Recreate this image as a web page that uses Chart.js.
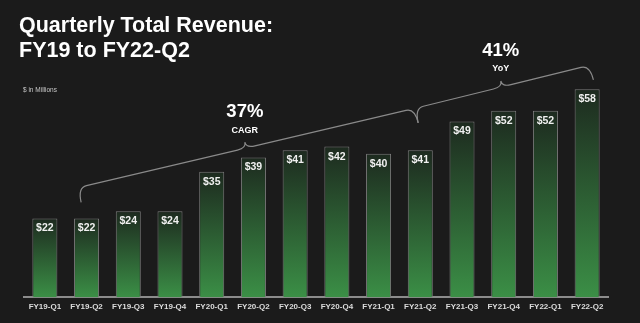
<!DOCTYPE html>
<html>
<head>
<meta charset="utf-8">
<script src="https://cdn.jsdelivr.net/npm/chart.js@4/dist/chart.umd.min.js"></script>
<style>
	html, body { margin: 0; padding: 0; background: #1b1b1b; }
	.chart { width: 640px; height: 323px; position: relative; }
</style>
</head>
<body>
<div class="chart"><canvas id="chart-revenue"></canvas></div>
<script>
var quarters = ['FY19-Q1', 'FY19-Q2', 'FY19-Q3', 'FY19-Q4', 'FY20-Q1', 'FY20-Q2', 'FY20-Q3', 'FY20-Q4', 'FY21-Q1', 'FY21-Q2', 'FY21-Q3', 'FY21-Q4', 'FY22-Q1', 'FY22-Q2'];
var revenue = [22, 22, 24, 24, 35, 39, 41, 42, 40, 41, 49, 52, 52, 58];

var titleLines = ['Quarterly Total Revenue:', 'FY19 to FY22-Q2'];
var unitNote = '$ in Millions';

// growth callouts: brace from one quarter to another, ends given in $M
var braceLabels = ['37%', '41%'];
var braceSubs = ['CAGR', 'YoY'];
var braceFrom = [0.87, 8.95];
var braceTo = [8.95, 13.15];
var braceFromVal = [26.5, 48.6];
var braceToVal = [48.6, 60.6];

var fontFamily = '"Liberation Sans", Arial, Helvetica, sans-serif';

function barGradient(context) {
	var chart = context.chart;
	var area = chart.chartArea;
	if (!area) return '#2f7a3a';
	var v = context.raw;
	var top = chart.scales.y.getPixelForValue(v);
	var g = chart.ctx.createLinearGradient(0, top, 0, area.bottom);
	g.addColorStop(0, '#1d2a1f');
	g.addColorStop(1, '#3b8f46');
	return g;
}

function drawBrace(ctx, x1, y1, x2, y2, h, tip, r) {
	var dx = x2 - x1, dy = y2 - y1;
	var len = Math.sqrt(dx * dx + dy * dy);
	var ux = dx / len, uy = dy / len;
	var nx = uy, ny = -ux;
	var mx = (x1 + x2) / 2, my = (y1 + y2) / 2;

	ctx.beginPath();
	ctx.moveTo(x1, y1);
	ctx.quadraticCurveTo(x1 + nx * h, y1 + ny * h, x1 + ux * r + nx * h, y1 + uy * r + ny * h);
	ctx.lineTo(mx - ux * r + nx * h, my - uy * r + ny * h);
	ctx.quadraticCurveTo(mx + nx * h, my + ny * h, mx + nx * (h + tip), my + ny * (h + tip));
	ctx.quadraticCurveTo(mx + nx * h, my + ny * h, mx + ux * r + nx * h, my + uy * r + ny * h);
	ctx.lineTo(x2 - ux * r + nx * h, y2 - uy * r + ny * h);
	ctx.quadraticCurveTo(x2 + nx * h, y2 + ny * h, x2, y2);
	ctx.stroke();

	return { x: mx + nx * (h + tip), y: my + ny * (h + tip) };
}

var extrasPlugin = {
	id: 'extras',
	afterDatasetsDraw: function(chart) {
		var ctx = chart.ctx;
		var xs = chart.scales.x;
		var ys = chart.scales.y;
		ctx.save();

		// title
		ctx.fillStyle = '#ffffff';
		ctx.textAlign = 'left';
		ctx.textBaseline = 'alphabetic';
		ctx.font = 'bold 21.5px ' + fontFamily;
		ctx.fillText(titleLines[0], 19, 32);
		ctx.fillText(titleLines[1], 19, 57);

		ctx.fillStyle = '#c8c8c8';
		ctx.font = '6.5px ' + fontFamily;
		ctx.textBaseline = 'middle';
		ctx.fillText(unitNote, 23, 90);

		// value labels inside bars
		var meta = chart.getDatasetMeta(0);
		ctx.fillStyle = '#f0f0f0';
		ctx.textAlign = 'center';
		ctx.font = 'bold 10.5px ' + fontFamily;
		meta.data.forEach(function(bar, i) {
			ctx.fillText('$' + revenue[i], bar.x, bar.y + 10);
		});

		// braces with labels
		ctx.strokeStyle = '#8a8a8a';
		ctx.lineWidth = 1.2;
		for (var i = 0; i < braceLabels.length; i++) {
			var x1 = xs.getPixelForValue(braceFrom[i]);
			var x2 = xs.getPixelForValue(braceTo[i]);
			var y1 = ys.getPixelForValue(braceFromVal[i]);
			var y2 = ys.getPixelForValue(braceToVal[i]);
			var tip = drawBrace(ctx, x1, y1, x2, y2, 15, 6, 9);

			ctx.fillStyle = '#ffffff';
			ctx.font = 'bold 18.5px ' + fontFamily;
			ctx.fillText(braceLabels[i], tip.x, tip.y - 30);
			ctx.font = 'bold 9px ' + fontFamily;
			ctx.fillText(braceSubs[i], tip.x, tip.y - 12);
		}
		ctx.restore();
	}
};

var ctx = document.getElementById('chart-revenue').getContext('2d');
var myChart = new Chart(ctx, {
	type: 'bar',
	data: {
		labels: quarters,
		datasets: [
			{
				label: 'Revenue',
				data: revenue,
				backgroundColor: barGradient,
				borderColor: '#7a7a7a',
				borderWidth: 1,
				borderSkipped: 'bottom',
				barPercentage: 0.6,
				categoryPercentage: 1
			}
		]
	},
	options: {
		responsive: true,
		maintainAspectRatio: false,
		animation: false,
		layout: {
			padding: { top: 82, left: 24, right: 32, bottom: 6 }
		},
		plugins: {
			legend: { display: false },
			tooltip: { enabled: false },
			title: { display: false }
		},
		scales: {
			x: {
				grid: { display: false, drawTicks: false },
				border: { display: true, color: '#8c8c8c', width: 2 },
				ticks: {
					color: '#dcdcdc',
					padding: 5,
					maxRotation: 0,
					autoSkip: false,
					font: { family: fontFamily, size: 8, weight: 'bold' }
				}
			},
			y: {
				display: false,
				min: 0,
				max: 60
			}
		}
	},
	plugins: [extrasPlugin]
});
</script>
</body>
</html>
